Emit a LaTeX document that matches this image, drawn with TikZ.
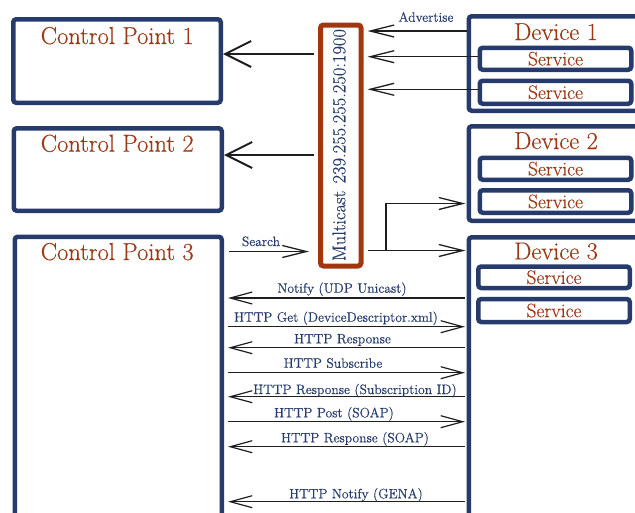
\documentclass[tikz,border=0pt]{standalone}
\usepackage{fontspec}
\setmainfont{Latin Modern Roman}[FakeBold=0.35]
\usetikzlibrary{arrows.meta}
\definecolor{navy}{HTML}{263B6B}
\definecolor{rust}{HTML}{9C3816}
\definecolor{mcborder}{HTML}{A2370F}
\definecolor{ink}{HTML}{1E1E1E}
\begin{document}
\begin{tikzpicture}[x=1pt,y=-1pt,
  frame/.style={draw=navy,line width=4.5pt,rounded corners=3pt,fill=white,inner sep=0pt},
  svcbox/.style={frame,minimum width=151.5pt,text=rust,font=\fontsize{19.5}{22}\selectfont},
  titletext/.style={text=rust,font=\fontsize{24.5}{28}\selectfont,inner sep=0pt},
  msglabel/.style={text=navy,font=\fontsize{13.6}{15}\selectfont,inner sep=0pt},
  bigarrow/.style={draw=ink,line width=2.2pt,-{Straight Barb[length=26pt,width=26pt,line width=2pt]}},
  thinarrow/.style={draw=ink,line width=1.2pt,-{Straight Barb[length=24pt,width=12pt,line width=1.3pt]}},
  msgarrow/.style={draw=ink,line width=1.1pt,-{Straight Barb[length=22pt,width=12pt,line width=1.2pt]}}
]
\useasboundingbox (0,0) rectangle (635,512);
\clip (0,0) rectangle (635,512);

% control points
\node[frame,minimum width=207.5pt,minimum height=83.5pt] (cp1) at (117,61) {};
\node[frame,minimum width=208pt,minimum height=82.5pt] (cp2) at (117.75,169.5) {};
\node[frame,minimum width=207pt,minimum height=381pt] (cp3) at (118.25,427.25) {};
\node[titletext,anchor=base] (cp1t) at (117.2,44) {Control Point 1};
\node[titletext,anchor=base] (cp2t) at (117.2,151.7) {Control Point 2};
\node[titletext,anchor=base] (cp3t) at (117.2,260) {Control Point 3};

% multicast group
\node[draw=mcborder,line width=5pt,rounded corners=3pt,fill=white,
      minimum width=40.5pt,minimum height=241pt,inner sep=0pt] (mc) at (340.75,145.5) {};
\node[rotate=90,text=navy,font=\fontsize{18.5}{20}\selectfont,inner sep=0pt]
      (mclabel) at (339,145) {Multicast\hspace{0.4em}239.255.255.250:1900};

% devices
\node[frame,minimum width=229pt,minimum height=94.5pt] (d1) at (583.25,63.5) {};
\node[frame,minimum width=229pt,minimum height=94.5pt] (d2) at (583.25,173.5) {};
\node[frame,minimum width=229pt,minimum height=380.5pt] (d3) at (583.25,427.5) {};
\node[titletext,anchor=base] (d1t) at (556,40) {Device 1};
\node[titletext,anchor=base] (d2t) at (556,149) {Device 2};
\node[titletext,anchor=base] (d3t) at (556,259.3) {Device 3};

% services
\node[svcbox,minimum height=22pt] (s11) at (555.5,58.75) {Service};
\node[svcbox,minimum height=23pt] (s12) at (555.5,92.25) {Service};
\node[svcbox,minimum height=22pt] (s21) at (555.5,168.75) {Service};
\node[svcbox,minimum height=22.5pt] (s22) at (555.5,201.5) {Service};
\node[svcbox,minimum height=21.5pt] (s31) at (554,277.25) {Service};
\node[svcbox,minimum height=23pt] (s32) at (554,310.5) {Service};

% multicast to control points
\draw[bigarrow,shorten <=4pt] (mc.west |- 0,54) -- (cp1.east |- 0,54);
\draw[bigarrow,shorten <=4pt] (mc.west |- 0,155) -- (cp2.east |- 0,155);

% advertisements
\draw[thinarrow,shorten >=4pt] (d1.west |- 0,31) -- (mc.east |- 0,31);
\draw[thinarrow,shorten >=4pt] (s11.west |- 0,56.7) -- (mc.east |- 0,56.7);
\draw[thinarrow,shorten >=4pt] (s12.west |- 0,89.3) -- (mc.east |- 0,89.3);
\node[msglabel,anchor=base] (adv) at (426,21.7) {Advertise};

% search
\draw[thinarrow,shorten <=5pt,shorten >=9pt] (cp3.east |- 0,251.5) -- (mc.west |- 0,251.5);
\node[msglabel,anchor=base] (srch) at (261,246) {Search};
\coordinate (fork) at (386,250.5);
\draw[thinarrow,shorten <=4pt,shorten >=1pt] (mc.east |- fork) -- (d3.west |- fork);
\draw[thinarrow,shorten >=1pt] (fork) |- (d2.west |- 0,203.5);

% unicast exchange
\draw[msgarrow,shorten <=1.5pt,shorten >=4pt] (d3.west |- 0,298) -- (cp3.east |- 0,298);
\node[msglabel,anchor=base] (m1) at (342,292.7) {Notify (UDP Unicast)};
\draw[msgarrow,shorten <=4pt,shorten >=1.5pt] (cp3.east |- 0,326.7) -- (d3.west |- 0,326.7);
\node[msglabel,anchor=base] (m2) at (336,321.7) {HTTP Get (DeviceDescriptor.xml)};
\draw[msgarrow,shorten <=1.5pt,shorten >=4pt] (d3.west |- 0,347.7) -- (cp3.east |- 0,347.7);
\node[msglabel,anchor=base] (m3) at (342.5,343.3) {HTTP Response};
\draw[msgarrow,shorten <=4pt,shorten >=1.5pt] (cp3.east |- 0,372.7) -- (d3.west |- 0,372.7);
\node[msglabel,anchor=base] (m4) at (333,367.7) {HTTP Subscribe};
\draw[msgarrow,shorten <=1.5pt,shorten >=4pt] (d3.west |- 0,396.7) -- (cp3.east |- 0,396.7);
\node[msglabel,anchor=base] (m5) at (355,394) {HTTP Response (Subscription ID)};
\draw[msgarrow,shorten <=4pt,shorten >=1.5pt] (cp3.east |- 0,421.7) -- (d3.west |- 0,421.7);
\node[msglabel,anchor=base] (m6) at (334,417.3) {HTTP Post (SOAP)};
\draw[msgarrow,shorten <=1.5pt,shorten >=4pt] (d3.west |- 0,446.7) -- (cp3.east |- 0,446.7);
\node[msglabel,anchor=base] (m7) at (355,442.3) {HTTP Response (SOAP)};
\draw[msgarrow,shorten <=1.5pt,shorten >=4pt] (d3.west |- 0,501.7) -- (cp3.east |- 0,501.7);
\node[msglabel,anchor=base] (m8) at (356,498.3) {HTTP Notify (GENA)};
\end{tikzpicture}
\end{document}
